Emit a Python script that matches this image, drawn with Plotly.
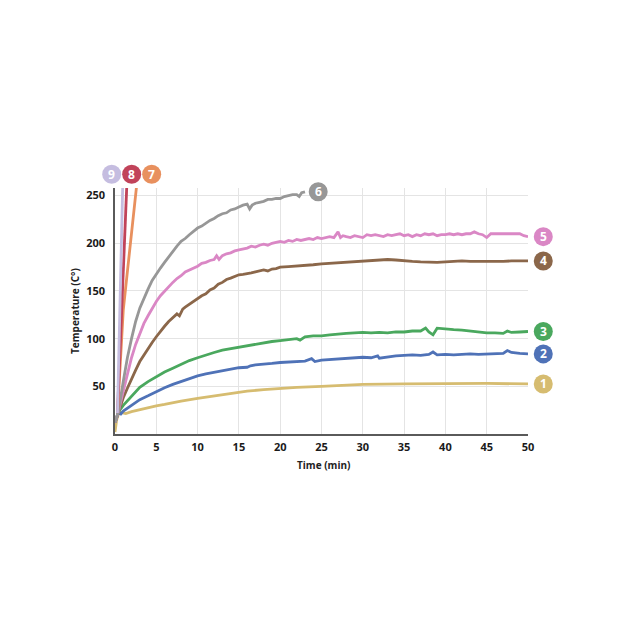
import plotly.graph_objects as go

# ---------------- data ----------------
t1 = [0, 0.2, 0.5, 1, 1.3, 2, 3, 4, 5, 6, 7, 8, 10, 12, 14, 16, 18, 20, 22, 25, 28, 30, 35, 40, 45, 50]
T1 = [2, 15, 23, 22, 21.5, 23.5, 25.5, 28, 29.5, 31, 33, 34.5, 37.4, 40, 43, 45, 46.5, 48, 49, 50, 51, 52, 52.5, 53, 53, 52.5]

t2 = [0, 0.4, 0.7, 1, 2, 3, 4, 5, 6, 7, 8, 9, 10, 11, 12, 13, 14, 15, 16, 16.4, 17, 18, 19, 20, 21, 22, 23,
      23.8, 24.2, 25, 26, 27, 28, 29, 30, 31, 31.8, 32, 33, 34, 35, 36, 37, 38, 38.5, 39, 40, 41, 42, 43, 44,
      45, 46, 47, 47.5, 48, 49, 50]
T2 = [12, 22, 21, 24, 30, 36, 40, 44.5, 48.5, 52, 55, 58, 61, 63, 64.5, 66.5, 67.5, 69.5, 70, 71.5, 72.5, 73, 74,
      75, 75.5, 76, 76.5, 79, 76, 77.5, 78, 78.5, 79, 79.5, 80.5, 80, 82, 79.5, 81, 82, 82.5, 83, 82.5, 83.5,
      86, 83, 83.5, 83, 83.5, 84, 83.5, 84, 84, 84.5, 87.5, 85.5, 84.5, 84]

t3 = [0, 0.4, 1, 2, 3, 4, 5, 6, 7, 8, 9, 10, 11, 12, 13, 14, 15, 16, 17, 18, 19, 20, 21, 22, 22.4, 23, 24, 25,
      26, 27, 28, 29, 30, 31, 32, 33, 34, 35, 36, 37, 37.6, 38, 38.5, 39, 40, 41, 42, 43, 44, 45, 46, 47,
      47.5, 48, 49, 50]
T3 = [12, 23, 30, 40, 49, 55, 60, 65, 69, 73, 77, 80, 83, 85.5, 88, 89.5, 91.5, 93, 94, 95.5, 97, 98, 99, 100,
      98.5, 102, 103, 103, 104, 105, 105.5, 106, 106.5, 106, 106.5, 106, 107, 107, 108, 108, 111, 107, 104,
      111, 110, 109.5, 109, 108, 107, 106, 106, 105.5, 108, 106.5, 107, 107.5]

t4 = [0, 0.4, 1, 1.5, 2, 2.5, 3, 3.5, 4, 4.5, 5, 5.5, 6, 6.5, 7, 7.5, 7.8, 8.2, 8.5, 9, 9.5, 10, 10.5, 11,
      11.5, 12, 12.5, 13, 13.5, 14, 14.5, 15, 15.5, 16, 16.5, 17, 17.5, 18, 18.5, 19, 19.5, 20, 21, 22, 23,
      24, 25, 26, 27, 28, 29, 30, 31, 32, 33, 34, 35, 36, 37, 38, 39, 40, 41, 42, 43, 44, 45, 46, 47, 48,
      49, 50]
T4 = [12, 23, 38, 48, 58, 67, 76, 83, 90, 96, 102, 108, 113, 118, 122, 126, 124, 131, 133, 136, 139, 142, 145,
      147, 151, 153, 157, 159, 162, 163.5, 165, 167, 167.5, 168, 169, 170, 171, 172, 171, 173, 173.5, 175,
      175.5, 176, 177, 177.5, 178.5, 179, 180, 180.5, 180.5, 181, 182, 182.5, 183, 182.5, 181.5, 181,
      180.5, 180, 180, 180.5, 181, 181.5, 181, 181, 180.5, 181, 181, 181.5, 181.5, 181.5]

t5 = [0, 0.4, 1, 1.5, 2, 2.5, 3, 3.5, 4, 4.5, 5, 5.5, 6, 6.5, 7, 7.5, 8, 8.5, 9, 9.5, 10, 10.5, 11, 11.5,
      12, 12.3, 12.6, 13, 13.5, 14, 14.5, 15, 15.5, 16, 16.5, 17, 17.5, 18, 18.5, 19, 19.5, 20, 20.5, 21,
      21.5, 22, 22.5, 23, 23.5, 24, 24.5, 25, 25.5, 26, 26.5, 27, 27.3, 27.6, 28, 28.5, 29, 29.5, 30, 30.5,
      31, 31.5, 32, 32.5, 33, 33.5, 34, 34.5, 35, 35.5, 36, 36.5, 37, 37.5, 38, 38.5, 39, 39.5, 40, 40.5,
      41, 41.5, 42, 42.5, 43, 43.5, 44, 44.5, 45, 45.5, 46, 47, 48, 49, 49.5, 50]
T5 = [12, 23, 45, 63, 80, 94, 106, 116, 124, 132, 139, 145, 150, 155, 159, 163, 166, 170, 172, 174, 176, 179,
      180, 182, 183, 187, 183, 187, 189, 190, 192, 193, 194, 195, 197, 196, 198, 199, 198, 200, 201, 202,
      201, 203, 202, 204, 203, 204, 205, 204, 206, 205, 206, 207, 206, 212, 206, 208, 207, 206, 208, 207,
      206, 209, 208, 209, 208, 207, 209, 208, 209, 210, 208, 209, 207, 209, 208, 210, 209, 210, 208, 209,
      209, 210, 209, 210, 209, 210, 210, 212, 210, 209, 206, 210, 210, 210, 210, 210, 208, 207]

t6 = [0, 0.4, 1, 1.5, 2, 2.5, 3, 3.5, 4, 4.5, 5, 5.5, 6, 6.5, 7, 7.5, 8, 8.5, 9, 9.5, 10, 10.5, 11, 11.5,
      12, 12.5, 13, 13.5, 14, 14.5, 15, 15.5, 16, 16.3, 16.6, 17, 17.5, 18, 18.5, 19, 19.5, 20, 20.5, 21,
      21.5, 22, 22.3, 22.6, 23]
T6 = [12, 23, 55, 80, 100, 118, 132, 143, 152, 161, 168, 174, 180, 186, 192, 197, 202, 205, 209, 213, 216,
      218, 221, 224, 226, 229, 231, 232, 235, 236, 238, 240, 241, 236, 240, 242, 243, 244, 246, 246, 247,
      247, 249, 250, 251, 251, 249, 253, 254]

t7 = [0.3, 1.0, 2.6]
T7 = [22, 130, 259]
t8 = [0.3, 0.81, 1.42]
T8 = [22, 130, 259]
t9 = [0.3, 0.6, 0.93]
T9 = [22, 130, 259]

labels = ["1", "2", "3", "4", "5", "6", "7", "8", "9"]
x_ticks = [0, 5, 10, 15, 20, 25, 30, 35, 40, 45, 50]
y_ticks = [50, 100, 150, 200, 250]

# ---------------- styling ----------------
X_RANGE = [0, 50]
Y_RANGE = [0, 258]
colors = {
    "1": "#d6bc70", "2": "#4f72b7", "3": "#4aa85e", "4": "#8b674a", "5": "#da87c5",
    "6": "#979797", "7": "#e8905e", "8": "#c1435a", "9": "#c5bde0",
}
series = {
    "1": (t1, T1), "2": (t2, T2), "3": (t3, T3), "4": (t4, T4), "5": (t5, T5),
    "6": (t6, T6), "7": (t7, T7), "8": (t8, T8), "9": (t9, T9),
}
FONT = "Open Sans"

fig = go.Figure()
for key in ["1", "2", "3", "4", "5", "6", "7", "8", "9"]:
    xs, ys = series[key]
    fig.add_trace(go.Scatter(x=xs, y=ys, mode="lines",
                             line=dict(color=colors[key], width=2.8),
                             hoverinfo="skip", showlegend=False))


def to_paper(xv, yv):
    return ((xv - X_RANGE[0]) / (X_RANGE[1] - X_RANGE[0]),
            (yv - Y_RANGE[0]) / (Y_RANGE[1] - Y_RANGE[0]))


# badge anchor points (data units): right-side badges sit at each series' final value
badges = []
for key in ["1", "2", "3", "4", "5"]:
    xs, ys = series[key]
    badges.append((key, 51.85, ys[-1]))
badges.append(("6", t6[-1] + 1.6, T6[-1]))
for key, xoff in [("9", -0.4), ("8", 2.02), ("7", 4.44)]:
    badges.append((key, xoff, 272.5))

shapes, annotations = [], []
R = 9.5
for key, bxv, byv in badges:
    px, py = to_paper(bxv, byv)
    shapes.append(dict(type="circle", xref="paper", yref="paper",
                       xsizemode="pixel", ysizemode="pixel",
                       xanchor=px, yanchor=py, x0=-R, x1=R, y0=-R, y1=R,
                       fillcolor=colors[key], line=dict(width=0), layer="above"))
    annotations.append(dict(text=key, xref="paper", yref="paper", x=px, y=py,
                            xanchor="center", yanchor="middle", showarrow=False,
                            font=dict(family=FONT, size=12, color="white", weight="bold")))

annotations += [
    dict(text="Time (min)", xref="paper", yref="paper", x=0.506, y=-0.126,
         xanchor="center", yanchor="middle", showarrow=False,
         font=dict(family=FONT, size=10, color="#222", weight="bold")),
    dict(text="Temperature (C°)", xref="paper", yref="paper", x=-0.097, y=0.5,
         xanchor="center", yanchor="middle", showarrow=False, textangle=-90,
         font=dict(family=FONT, size=10, color="#222", weight="bold")),
]

# page body has an 8px default margin, so offsets are reduced by 8px
fig.update_layout(
    width=631, height=630,
    margin=dict(l=107, r=111, t=180, b=204, autoexpand=False),
    paper_bgcolor="white", plot_bgcolor="white",
    font=dict(family=FONT, color="#222"),
    xaxis=dict(range=X_RANGE, tickvals=x_ticks, ticktext=[str(v) for v in x_ticks],
               showgrid=True, gridcolor="#e4e4e4", gridwidth=1,
               showline=True, linecolor="#5a5a5a", linewidth=1.6,
               zeroline=False, ticks="", ticklabelstandoff=2,
               tickfont=dict(family=FONT, size=11, color="#1a1a1a", weight="bold")),
    yaxis=dict(range=Y_RANGE, tickvals=y_ticks, ticktext=[str(v) for v in y_ticks],
               showgrid=True, gridcolor="#e4e4e4", gridwidth=1,
               showline=True, linecolor="#5a5a5a", linewidth=1.6,
               zeroline=False, ticks="", ticklabelstandoff=6,
               tickfont=dict(family=FONT, size=11, color="#1a1a1a", weight="bold")),
    shapes=shapes,
    annotations=annotations,
)

fig.write_html("out.html")
